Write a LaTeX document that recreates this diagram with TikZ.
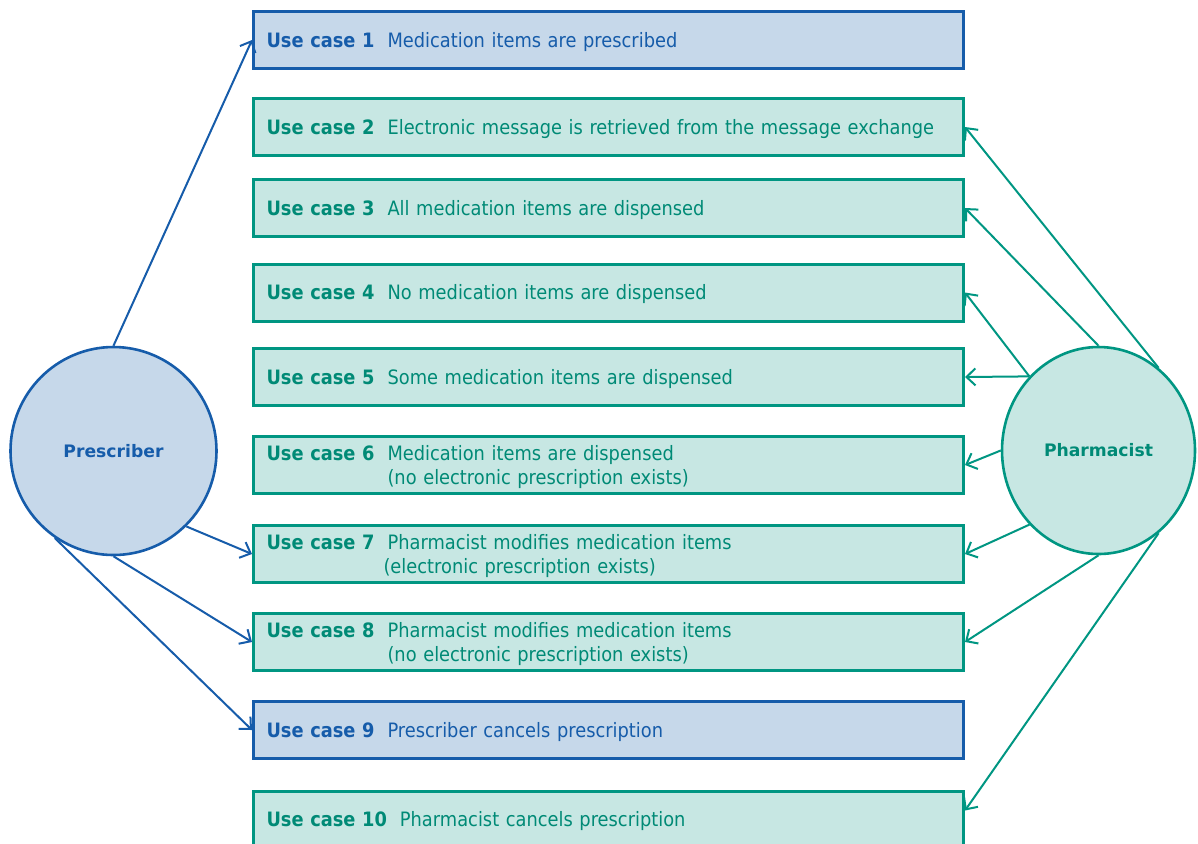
\documentclass[tikz,border=0pt]{standalone}
\usepackage{fontspec}
\setmainfont{DejaVu Sans}[FakeStretch=0.9]
\newfontfamily\actorfont{DejaVu Sans}
\usepackage{tikz}
\usetikzlibrary{positioning, arrows.meta, shapes.geometric}
\definecolor{bluec}{RGB}{22,92,170}
\definecolor{bluef}{RGB}{198,216,234}
\definecolor{tealc}{RGB}{0,150,130}
\definecolor{tealf}{RGB}{199,231,227}
\definecolor{tealt}{RGB}{0,138,118}

\begin{document}
\begin{tikzpicture}[x=0.5pt, y=-0.5pt, font=\fontsize{9.9}{12}\selectfont,
  ucbox/.style={draw, line width=1.5pt, minimum width=355pt, minimum height=28.5pt,
    text width=342pt, inner xsep=6.5pt, inner ysep=0pt, align=left},
  ucblue/.style={ucbox, draw=bluec, fill=bluef, text=bluec},
  ucteal/.style={ucbox, draw=tealc, fill=tealf, text=tealt},
  actor/.style={ellipse, draw, line width=1.3pt, inner sep=0pt,
    font=\actorfont\bfseries\fontsize{8.6}{10}\selectfont},
  link/.style={-{Straight Barb[length=4.5pt,width=8.5pt]}, line width=1pt}]

% label + description, lowered a little so the capitals sit on the box middle
\newcommand{\uc}[3]{\raisebox{-1.3pt}[\height][\depth]{%
  \begin{tabular}{@{}l@{\hspace{6.5pt}}l@{}}\textbf{Use case #1} & #2\\ & #3\end{tabular}}}
\newcommand{\ucone}[2]{\raisebox{-1.3pt}[\height][\depth]{%
  \begin{tabular}{@{}l@{\hspace{6.5pt}}l@{}}\textbf{Use case #1} & #2\end{tabular}}}

\useasboundingbox (0,0) rectangle (1198,843);

% use case boxes, x from 253 to 964
\node[ucblue] (uc1) at (608.5,40) {\ucone{1}{Medication items are prescribed}};
\node[ucteal] (uc2) at (608.5,127) {\ucone{2}{Electronic message is retrieved from the message exchange}};
\node[ucteal] (uc3) at (608.5,208) {\ucone{3}{All medication items are dispensed}};
\node[ucteal] (uc4) at (608.5,292.5) {\ucone{4}{No medication items are dispensed}};
\node[ucteal] (uc5) at (608.5,377) {\ucone{5}{Some medication items are dispensed}};
\node[ucteal] (uc6) at (608.5,465) {\uc{6}{Medication items are dispensed}{(no electronic prescription exists)}};
\node[ucteal] (uc7) at (608.5,554) {\uc{7}{Pharmacist modifies medication items}{\hspace{-2pt}(electronic prescription exists)}};
\node[ucteal] (uc8) at (608.5,642) {\uc{8}{Pharmacist modifies medication items}{(no electronic prescription exists)}};
\node[ucblue] (uc9) at (608.5,730) {\ucone{9}{Prescriber cancels prescription}};
\node[ucteal] (uc10) at (608.5,819.5) {\ucone{10}{Pharmacist cancels prescription}};

% actors
\node[actor, draw=bluec, fill=bluef, text=bluec, minimum width=103pt, minimum height=104pt]
  (presc) at (113.5,451) {Prescriber};
\node[actor, draw=tealc, fill=tealf, text=tealt, minimum width=96.5pt, minimum height=103.5pt]
  (pharm) at (1098.5,450.5) {Pharmacist};

% prescriber links
\draw[link, bluec] (presc.90) -- (uc1.west);
\draw[link, bluec] (presc.314) -- (uc7.west);
\draw[link, bluec] (presc.270) -- (uc8.west);
\draw[link, bluec] (presc.236) -- (uc9.west);

% pharmacist links
\draw[link, tealc] (pharm.54) -- (uc2.east);
\draw[link, tealc] (pharm.90) -- (uc3.east);
\draw[link, tealc] (pharm.133) -- (uc4.east);
\draw[link, tealc] (pharm.133) -- (uc5.east);
\draw[link, tealc] (pharm.180) -- (uc6.east);
\draw[link, tealc] (pharm.227) -- (uc7.east);
\draw[link, tealc] (pharm.270) -- (uc8.east);
\draw[link, tealc] (pharm.306) -- ([yshift=4.5pt]uc10.east);
\end{tikzpicture}
\end{document}
